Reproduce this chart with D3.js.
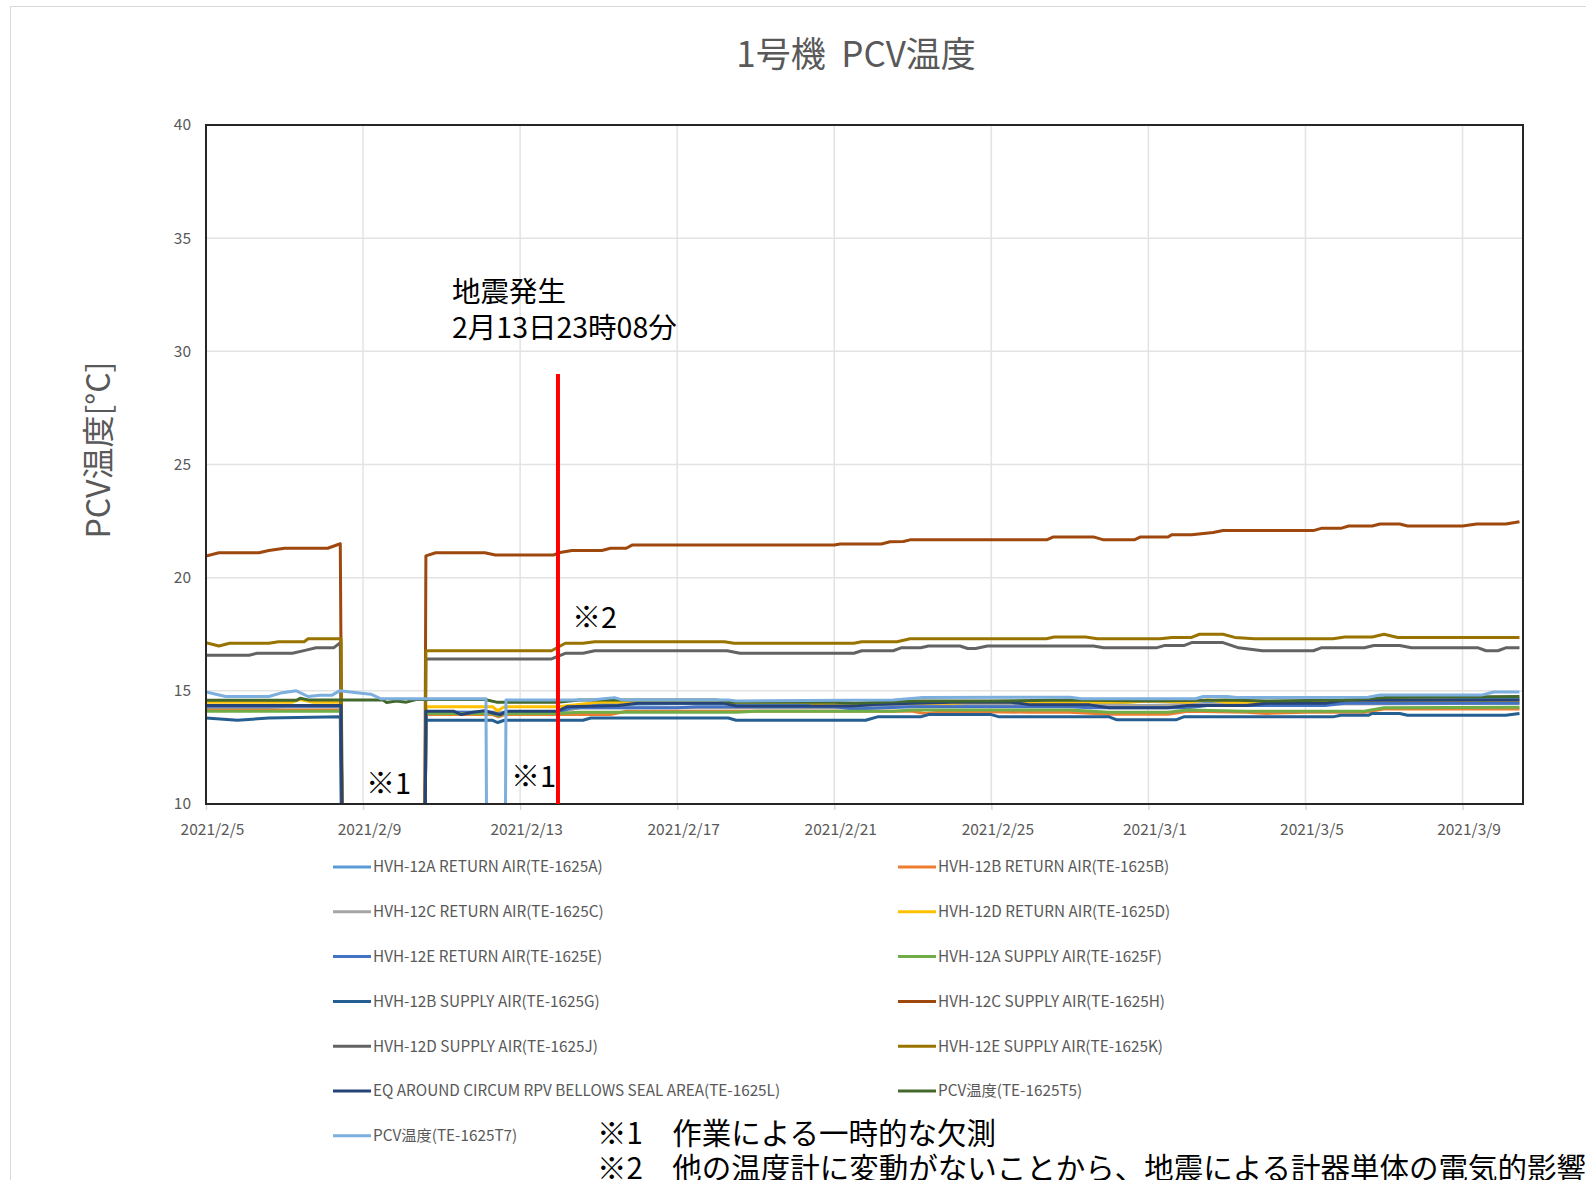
<!DOCTYPE html>
<html>
<head>
<meta charset="utf-8">
<script src="https://cdnjs.cloudflare.com/ajax/libs/d3/7.8.5/d3.min.js"></script>
<style>
  body { margin: 0; background: #fff; }
  svg { display: block; }
</style>
</head>
<body>
<svg id="chart" width="1586" height="1180"></svg>
<script>
"use strict";

// time is counted in days from 2021/2/5 00:00, values in °C (0 = missing reading)
var seriesNames = [
  "HVH-12A RETURN AIR(TE-1625A)", "HVH-12B RETURN AIR(TE-1625B)",
  "HVH-12C RETURN AIR(TE-1625C)", "HVH-12D RETURN AIR(TE-1625D)",
  "HVH-12E RETURN AIR(TE-1625E)", "HVH-12A SUPPLY AIR(TE-1625F)",
  "HVH-12B SUPPLY AIR(TE-1625G)", "HVH-12C SUPPLY AIR(TE-1625H)",
  "HVH-12D SUPPLY AIR(TE-1625J)", "HVH-12E SUPPLY AIR(TE-1625K)",
  "EQ AROUND CIRCUM RPV BELLOWS SEAL AREA(TE-1625L)", "PCV温度(TE-1625T5)",
  "PCV温度(TE-1625T7)"
];
var seriesColors = [
  "#5b9bd5", "#ed7d31", "#a5a5a5", "#ffc000", "#4472c4", "#70ad47",
  "#255e91", "#9e480e", "#636363", "#997300", "#264478", "#43682b", "#7cafdd"
];

var te1625A = [[0,14.25],[1.5,14.25],[2.0,14.3],[3.44,14.3],[3.5,0],[5.55,0],[5.6,14.0],[7.3,14.0],[7.45,13.9],[7.6,14.0],[8.96,14.0],[9.3,14.2],[10.0,14.4],[13.3,14.45],[13.6,14.35],[17.5,14.35],[18.0,14.45],[22.0,14.5],[23.0,14.45],[24.0,14.3],[25.0,14.4],[26.0,14.5],[28.0,14.45],[29.0,14.55],[33.45,14.65]];
var te1625B = [[0,14.15],[3.44,14.15],[3.5,0],[5.55,0],[5.6,13.95],[7.3,13.95],[7.45,13.85],[7.6,13.95],[10.3,13.95],[10.7,14.1],[18.0,14.1],[18.3,14.0],[19.0,14.1],[21.0,14.05],[22.0,14.05],[23.0,13.97],[24.5,13.97],[25.0,14.1],[26.5,14.05],[27.0,14.0],[28.0,14.05],[29.5,14.05],[30.0,14.2],[33.45,14.2]];
var te1625C = [[0,14.3],[3.44,14.3],[3.5,0],[5.55,0],[5.6,14.05],[8.96,14.05],[9.5,14.25],[17.0,14.25],[18.0,14.35],[24.0,14.35],[25.0,14.4],[33.45,14.45]];
var te1625D = [[0,14.5],[2.2,14.5],[2.4,14.62],[2.7,14.5],[3.44,14.5],[3.5,0],[5.55,0],[5.6,14.3],[7.3,14.3],[7.42,14.12],[7.6,14.3],[8.96,14.3],[9.5,14.4],[10.0,14.5],[15.3,14.5],[15.5,14.4],[15.8,14.45],[19.0,14.45],[19.5,14.5],[23.5,14.5],[24.0,14.55],[25.0,14.5],[25.5,14.6],[26.0,14.5],[33.45,14.55]];
var te1625E = [[0,14.32],[3.44,14.32],[3.5,0],[5.55,0],[5.6,14.05],[7.3,14.05],[7.45,13.95],[7.6,14.05],[8.96,14.05],[9.3,14.25],[12.0,14.25],[12.5,14.3],[16.0,14.3],[16.5,14.2],[18.0,14.3],[22.0,14.3],[22.5,14.25],[25.0,14.25],[25.5,14.35],[28.5,14.35],[29.0,14.45],[33.45,14.45]];
var te1625F = [[0,14.1],[3.44,14.1],[3.5,0],[5.55,0],[5.6,14.0],[7.3,14.0],[7.45,13.9],[7.6,14.0],[8.96,14.0],[9.5,14.05],[13.5,14.05],[14.0,14.1],[17.5,14.1],[18.0,14.15],[22.0,14.15],[23.0,14.05],[24.5,14.05],[25.0,14.15],[26.5,14.1],[29.5,14.1],[30.0,14.25],[33.45,14.28]];
var te1625G = [[0,13.8],[0.8,13.7],[1.6,13.8],[3.42,13.85],[3.5,0],[5.55,0],[5.6,13.7],[7.3,13.7],[7.43,13.6],[7.6,13.7],[9.6,13.7],[9.8,13.8],[13.3,13.8],[13.5,13.7],[16.8,13.7],[17.1,13.85],[18.2,13.85],[18.4,13.95],[20.0,13.95],[20.2,13.85],[23.0,13.85],[23.2,13.72],[24.7,13.72],[24.9,13.85],[28.7,13.85],[28.9,13.92],[29.6,13.92],[29.7,14.0],[30.4,14.0],[30.6,13.92],[33.1,13.92],[33.45,14.0]];
var te1625H = [[0,20.96],[0.33,21.1],[1.35,21.1],[1.6,21.2],[2.0,21.3],[3.1,21.3],[3.42,21.5],[3.5,0],[5.55,0],[5.6,20.96],[5.85,21.1],[7.1,21.1],[7.37,21.0],[8.85,21.0],[8.98,21.1],[9.32,21.2],[10.08,21.2],[10.3,21.3],[10.7,21.3],[10.85,21.44],[16.0,21.44],[16.15,21.49],[17.2,21.49],[17.42,21.59],[17.76,21.6],[17.93,21.67],[21.41,21.67],[21.58,21.8],[22.6,21.8],[22.86,21.67],[23.64,21.67],[23.8,21.8],[24.5,21.8],[24.6,21.9],[25.1,21.9],[25.65,22.0],[25.9,22.08],[28.2,22.08],[28.4,22.18],[28.9,22.18],[29.1,22.28],[29.7,22.28],[29.9,22.37],[30.4,22.37],[30.6,22.28],[32.0,22.28],[32.36,22.37],[33.1,22.37],[33.45,22.47]];
var te1625J = [[0,16.57],[1.1,16.57],[1.3,16.66],[2.2,16.66],[2.55,16.8],[2.8,16.9],[3.25,16.9],[3.42,17.13],[3.5,0],[5.55,0],[5.6,16.41],[8.8,16.41],[9.15,16.66],[9.6,16.66],[9.9,16.77],[13.27,16.77],[13.6,16.66],[16.5,16.66],[16.7,16.77],[17.5,16.77],[17.7,16.9],[18.2,16.9],[18.4,16.98],[19.2,16.98],[19.4,16.87],[19.6,16.87],[19.9,16.98],[22.6,16.98],[22.86,16.9],[24.2,16.9],[24.4,17.0],[24.9,17.0],[25.1,17.13],[25.9,17.13],[26.3,16.9],[26.9,16.77],[28.2,16.77],[28.4,16.9],[29.5,16.9],[29.74,17.0],[30.4,17.0],[30.7,16.9],[32.4,16.9],[32.6,16.77],[32.9,16.77],[33.1,16.9],[33.45,16.9]];
var te1625K = [[0,17.13],[0.33,16.98],[0.6,17.1],[1.6,17.1],[1.85,17.17],[2.5,17.17],[2.6,17.3],[3.44,17.3],[3.5,0],[5.55,0],[5.6,16.77],[8.8,16.77],[9.15,17.1],[9.6,17.1],[9.9,17.17],[13.2,17.17],[13.45,17.1],[16.5,17.1],[16.7,17.17],[17.6,17.17],[17.93,17.3],[21.4,17.3],[21.6,17.38],[22.4,17.38],[22.7,17.3],[24.3,17.3],[24.6,17.36],[25.1,17.36],[25.3,17.5],[25.9,17.5],[26.2,17.36],[26.7,17.3],[28.7,17.3],[29.0,17.38],[29.7,17.38],[30.0,17.5],[30.35,17.36],[33.45,17.36]];
var te1625L = [[0,14.35],[3.44,14.35],[3.5,0],[5.55,0],[5.6,14.1],[6.3,14.1],[6.5,13.95],[6.8,14.05],[7.1,14.12],[7.35,14.0],[7.5,13.95],[7.65,14.1],[8.96,14.1],[9.2,14.3],[10.5,14.35],[11.0,14.45],[13.2,14.45],[13.5,14.33],[16.5,14.33],[17.0,14.4],[18.0,14.45],[19.0,14.5],[20.5,14.5],[21.0,14.38],[22.5,14.38],[23.0,14.25],[24.5,14.25],[25.0,14.35],[26.5,14.35],[27.0,14.45],[28.5,14.45],[29.0,14.58],[33.45,14.6]];
var te1625T5 = [[0,14.58],[2.3,14.58],[2.4,14.67],[2.6,14.6],[4.5,14.6],[4.6,14.48],[4.85,14.55],[5.1,14.5],[5.35,14.62],[7.1,14.62],[7.4,14.5],[8.96,14.5],[9.5,14.6],[13.0,14.6],[13.4,14.5],[16.0,14.5],[16.5,14.45],[18.0,14.55],[20.0,14.55],[22.0,14.6],[24.0,14.55],[26.0,14.6],[27.0,14.55],[29.0,14.6],[30.0,14.7],[33.45,14.75]];
var te1625T7 = [[0,14.95],[0.5,14.75],[1.6,14.75],[1.9,14.9],[2.3,15.0],[2.6,14.75],[2.9,14.8],[3.2,14.8],[3.4,15.0],[3.9,14.9],[4.2,14.85],[4.45,14.65],[7.13,14.65],[7.17,0],[7.6,0],[7.64,14.6],[9.8,14.6],[10.4,14.7],[10.6,14.6],[13.3,14.6],[13.5,14.55],[17.5,14.6],[18.2,14.7],[22.0,14.72],[22.3,14.65],[25.2,14.65],[25.4,14.75],[26.0,14.75],[26.3,14.7],[29.6,14.72],[29.9,14.82],[32.5,14.82],[32.8,14.95],[33.45,14.95]];

var seriesValues = [te1625A, te1625B, te1625C, te1625D, te1625E, te1625F, te1625G,
  te1625H, te1625J, te1625K, te1625L, te1625T5, te1625T7];

var yTicks = [10, 15, 20, 25, 30, 35, 40];
var xTickLabels = ["2021/2/5", "2021/2/9", "2021/2/13", "2021/2/17", "2021/2/21",
  "2021/2/25", "2021/3/1", "2021/3/5", "2021/3/9"];
var startDay = "2021/2/5";
var endDays = 33.54;
var quakeTime = "2021/2/13 23:08";
var quakeTop = 29;
var quakeLabel = ["地震発生", "2月13日23時08分"];
var notes = ["※1　作業による一時的な欠測", "※2　他の温度計に変動がないことから、地震による計器単体の電気的影響"];

var svg = d3.select("#chart");
var plot = { left: 206, top: 125, right: 1523, bottom: 804 };
var font = "'Noto Sans CJK JP', 'Noto Sans', sans-serif";
var grey = "#595959";

var parseDay = d3.timeParse("%Y/%m/%d");
var parseTime = d3.timeParse("%Y/%m/%d %H:%M");
var t0 = parseDay(startDay);
function toDate(d) {
  return new Date(t0.getTime() + d * 86400000);
}

var x = d3.scaleTime()
  .domain([t0, toDate(endDays)])
  .range([plot.left, plot.right]);
var y = d3.scaleLinear()
  .domain([10, 40])
  .range([plot.bottom, plot.top]);

// outer chart border
svg.append("rect")
  .attr("x", 10.5).attr("y", 6.5)
  .attr("width", 1600).attr("height", 1200)
  .attr("fill", "#fff")
  .attr("stroke", "#d9d9d9");

svg.append("text")
  .attr("x", 856).attr("y", 67)
  .attr("text-anchor", "middle")
  .attr("font-family", font)
  .attr("font-size", 35)
  .attr("fill", grey)
  .text("1号機\u00a0\u00a0PCV温度");

svg.append("text")
  .attr("transform", "translate(110,450) rotate(-90)")
  .attr("text-anchor", "middle")
  .attr("font-family", font)
  .attr("font-size", 32)
  .attr("fill", grey)
  .text("PCV温度[°C]");

var xTicks = xTickLabels.map(function(s) { return parseDay(s); });

// grid
svg.append("g")
  .selectAll("line.h")
  .data(yTicks)
  .join("line")
  .attr("x1", plot.left).attr("x2", plot.right)
  .attr("y1", function(d) { return y(d); })
  .attr("y2", function(d) { return y(d); })
  .attr("stroke", "#e3e3e3").attr("stroke-width", 1.5);

var xAxis = svg.append("g")
  .attr("transform", "translate(0," + plot.bottom + ")")
  .call(d3.axisBottom(x)
    .tickValues(xTicks)
    .tickFormat(d3.timeFormat("%Y/%-m/%-d"))
    .tickSize(6)
    .tickPadding(14));
xAxis.select(".domain").remove();
xAxis.selectAll(".tick line").attr("stroke", "#d9d9d9").attr("stroke-width", 1.5);
xAxis.selectAll(".tick text")
  .attr("dx", 6)
  .attr("fill", grey)
  .attr("font-family", font)
  .attr("font-size", 15.5);

svg.append("g")
  .selectAll("line.v")
  .data(xTicks)
  .join("line")
  .attr("x1", function(d) { return x(d); })
  .attr("x2", function(d) { return x(d); })
  .attr("y1", plot.top).attr("y2", plot.bottom)
  .attr("stroke", "#e3e3e3").attr("stroke-width", 1.5);

var yAxis = svg.append("g")
  .attr("transform", "translate(" + plot.left + ",0)")
  .call(d3.axisLeft(y).tickValues(yTicks).tickSize(0).tickPadding(15));
yAxis.select(".domain").remove();
yAxis.selectAll(".tick text")
  .attr("fill", grey)
  .attr("font-family", font)
  .attr("font-size", 15.5);

svg.append("clipPath")
  .attr("id", "plotClip")
  .append("rect")
  .attr("x", plot.left).attr("y", plot.top)
  .attr("width", plot.right - plot.left)
  .attr("height", plot.bottom - plot.top);

var line = d3.line()
  .x(function(d) { return x(toDate(d[0])); })
  .y(function(d) { return y(d[1]); });

svg.append("g")
  .attr("clip-path", "url(#plotClip)")
  .selectAll("path")
  .data(seriesValues)
  .join("path")
  .attr("d", line)
  .attr("fill", "none")
  .attr("stroke", function(d, i) { return seriesColors[i]; })
  .attr("stroke-width", 3)
  .attr("stroke-linejoin", "round");

// plot frame
svg.append("rect")
  .attr("x", plot.left).attr("y", plot.top)
  .attr("width", plot.right - plot.left)
  .attr("height", plot.bottom - plot.top)
  .attr("fill", "none")
  .attr("stroke", "#262626")
  .attr("stroke-width", 2);

// earthquake marker
var tq = parseTime(quakeTime);
svg.append("line")
  .attr("x1", x(tq)).attr("x2", x(tq))
  .attr("y1", y(10)).attr("y2", y(quakeTop))
  .attr("stroke", "#ff0000")
  .attr("stroke-width", 4);

svg.append("text")
  .attr("font-family", font)
  .attr("font-size", 28.5)
  .attr("fill", "#000")
  .selectAll("tspan")
  .data(quakeLabel)
  .join("tspan")
  .attr("x", 452)
  .attr("y", function(d, i) { return 302 + i * 36; })
  .text(function(d) { return d; });

var marks = [["※2", 572, 628], ["※1", 366, 794], ["※1", 511, 787]];
svg.append("g")
  .selectAll("text")
  .data(marks)
  .join("text")
  .attr("x", function(d) { return d[1]; })
  .attr("y", function(d) { return d[2]; })
  .attr("font-family", font)
  .attr("font-size", 29)
  .attr("fill", "#000")
  .text(function(d) { return d[0]; });

// legend, two columns
var legend = svg.append("g")
  .selectAll("g")
  .data(seriesNames)
  .join("g")
  .attr("transform", function(d, i) {
    var lx = i % 2 === 0 ? 333 : 898;
    var ly = 867 + Math.floor(i / 2) * 44.8;
    return "translate(" + lx + "," + ly + ")";
  });
legend.append("line")
  .attr("x1", 0).attr("x2", 38)
  .attr("stroke", function(d, i) { return seriesColors[i]; })
  .attr("stroke-width", 3);
legend.append("text")
  .attr("x", 40)
  .attr("dy", "0.35em")
  .attr("font-family", font)
  .attr("font-size", 15.3)
  .attr("fill", grey)
  .text(function(d) { return d; });

svg.append("g")
  .selectAll("text")
  .data(notes)
  .join("text")
  .attr("x", 597)
  .attr("y", function(d, i) { return 1144 + i * 35; })
  .attr("font-family", font)
  .attr("font-size", 29.5)
  .attr("fill", "#000")
  .text(function(d) { return d; });
</script>
</body>
</html>
